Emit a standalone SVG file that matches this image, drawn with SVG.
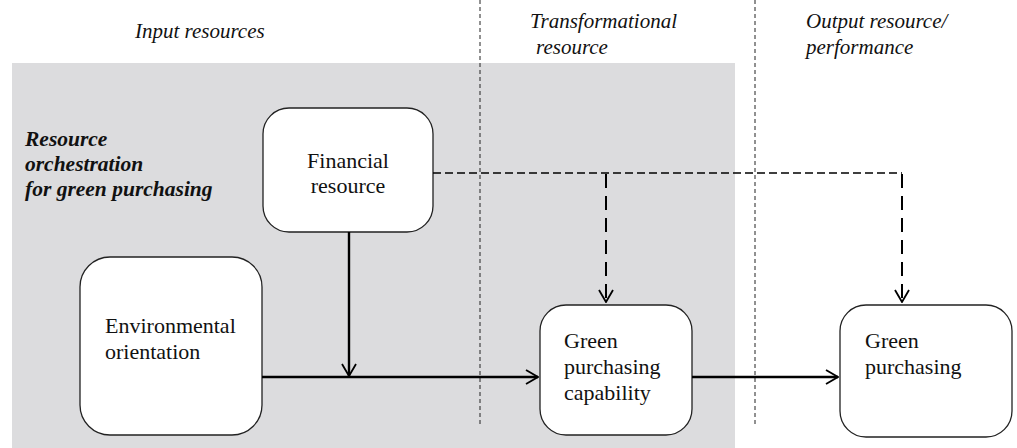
<svg xmlns="http://www.w3.org/2000/svg" width="1017" height="448" viewBox="0 0 1017 448" font-family="Liberation Serif, Times New Roman, serif">
<defs>
<marker id="open" viewBox="0 0 14 16" refX="13" refY="8" markerWidth="14" markerHeight="16" markerUnits="userSpaceOnUse" orient="auto">
<path d="M1,1 L13,8 L1,15" fill="none" stroke="#000" stroke-width="1.8"/>
</marker>
</defs>
<style>
.hdr{font-style:italic;font-size:21px;fill:#111}
.ttl{font-style:italic;font-weight:bold;font-size:21.5px;fill:#111}
.node rect{fill:#fff;stroke:#222;stroke-width:1.3}
.node text{font-size:22px;fill:#111}
.div{stroke:#222;stroke-width:1;stroke-dasharray:4 3;fill:none}
.solid{stroke:#000;stroke-width:2.4;fill:none}
.dh{stroke:#000;stroke-width:1.3;stroke-dasharray:8 4;fill:none}
.dv{stroke:#000;stroke-width:2;stroke-dasharray:14 8;fill:none}
</style>
<rect x="0" y="0" width="1017" height="448" fill="#fff"/>
<rect id="orchestration-area" x="12" y="63" width="723" height="385" fill="#dcdcde"/>
<g id="headers" font-family="Liberation Serif, serif">
<text class="hdr" x="135" y="38">Input resources</text>
<text class="hdr" x="530" y="28">Transformational</text>
<text class="hdr" x="536" y="54">resource</text>
<text class="hdr" x="806" y="28">Output resource/</text>
<text class="hdr" x="806" y="54">performance</text>
</g>
<g id="dividers">
<line class="div" x1="480" y1="0" x2="480" y2="427"/>
<line class="div" x1="755" y1="0" x2="755" y2="427"/>
</g>
<g id="title" font-family="Liberation Serif, serif">
<text class="ttl" x="25" y="146">Resource</text>
<text class="ttl" x="25" y="171">orchestration</text>
<text class="ttl" x="25" y="196">for green purchasing</text>
</g>
<g id="financial-resource" class="node" font-family="Liberation Serif, serif">
<rect x="263" y="108" width="170" height="124" rx="26"/>
<text x="348" y="168" text-anchor="middle">Financial</text>
<text x="348" y="193" text-anchor="middle">resource</text>
</g>
<g id="environmental-orientation" class="node" font-family="Liberation Serif, serif">
<rect x="80" y="257" width="182" height="178" rx="30"/>
<text x="105" y="333">Environmental</text>
<text x="105" y="359">orientation</text>
</g>
<g id="green-purchasing-capability" class="node" font-family="Liberation Serif, serif">
<rect x="540" y="305" width="152" height="130" rx="26"/>
<text x="564" y="348">Green</text>
<text x="564" y="374">purchasing</text>
<text x="564" y="400">capability</text>
</g>
<g id="green-purchasing" class="node" font-family="Liberation Serif, serif">
<rect x="840" y="305" width="172" height="132" rx="26"/>
<text x="865" y="348">Green</text>
<text x="865" y="374">purchasing</text>
</g>
<g id="connectors">
<line class="solid" x1="349" y1="232" x2="349" y2="376" marker-end="url(#open)"/>
<line class="solid" x1="262" y1="377" x2="538" y2="377" marker-end="url(#open)"/>
<line class="solid" x1="692" y1="377" x2="838" y2="377" marker-end="url(#open)"/>
<polyline class="dh" points="433,173 902,173"/>
<line class="dv" x1="606" y1="174" x2="606" y2="302" marker-end="url(#open)"/>
<line class="dv" x1="902" y1="174" x2="902" y2="302" marker-end="url(#open)"/>
</g>
</svg>
